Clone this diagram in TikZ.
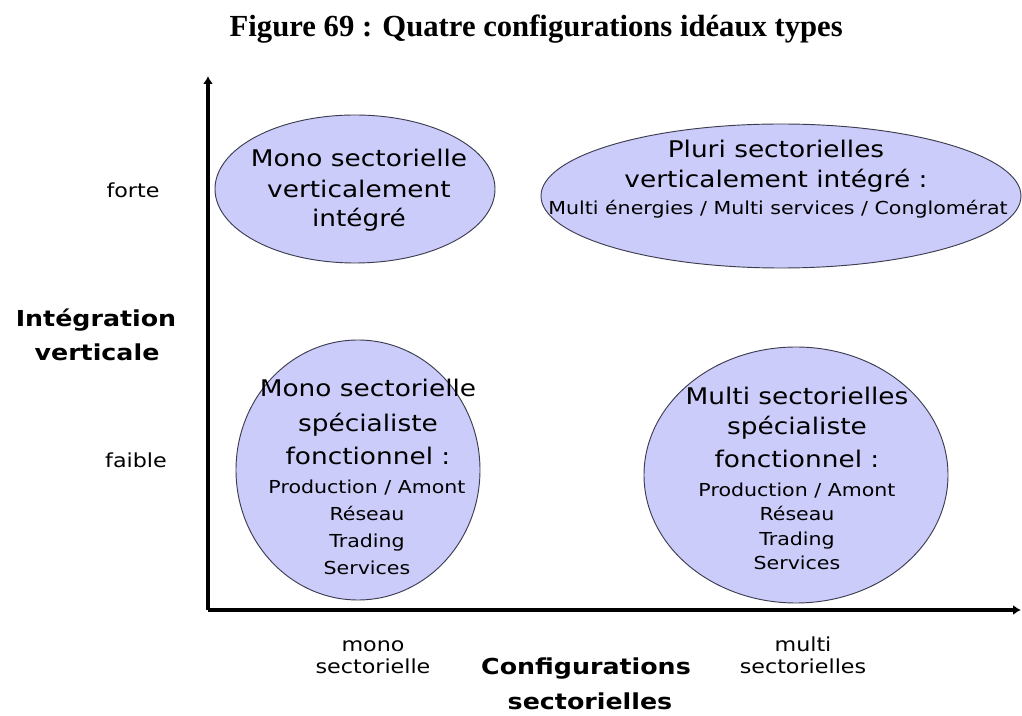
\documentclass[tikz,border=0pt]{standalone}
\usepackage{fontspec}
\setmainfont{DejaVu Sans}[FakeStretch=1.15]
\newfontfamily\titlefont{Liberation Serif}
\usetikzlibrary{shapes.geometric, arrows.meta}
\definecolor{bulle}{RGB}{204,204,250}
\definecolor{bord}{RGB}{60,60,80}

\begin{document}
\begin{tikzpicture}[x=0.75pt, y=-0.75pt, >={Latex[length=6pt,width=7.5pt]},
		bulle/.style={ellipse, draw=bord, line width=0.7pt, fill=bulle, inner sep=0pt},
		gros/.style={anchor=base, font=\fontsize{17.2}{20}\selectfont},
		petit/.style={anchor=base, font=\fontsize{13.4}{16}\selectfont},
		niveau/.style={anchor=base, font=\fontsize{14.5}{17}\selectfont},
		axe/.style={anchor=base, font=\fontsize{16.5}{20}\selectfont\bfseries}]

		\useasboundingbox (0,0) rectangle (1022,716);

		% Title
		\node[anchor=base west, font=\titlefont\bfseries\fontsize{23}{27}\selectfont] (titre) at (225, 37) {Figure 69 : Quatre configurations idéaux types};

		% Axes
		\coordinate (origine) at (208, 610);
		\coordinate (hautY) at (208, 76);
		\coordinate (finX) at (1021, 610);
		\draw[->, line width=2.6pt] (origine) -- (hautY);
		\draw[->, line width=2.6pt] (origine) -- (finX);

		% Ellipses
		\node[bulle, minimum width=210pt, minimum height=111pt] (monoVert) at (355, 189) {};
		\node[bulle, minimum width=360pt, minimum height=108pt] (pluriVert) at (781, 196) {};
		\node[bulle, minimum width=183pt, minimum height=195pt] (monoSpec) at (358, 470) {};
		\node[bulle, minimum width=228pt, minimum height=192pt] (multiSpec) at (796, 475) {};

		% Mono sectorielle verticalement integre
		\foreach \y/\txt [count=\i] in {167/Mono sectorielle, 198/verticalement, 227/intégré}
			\node[gros] (mv\i) at (359, \y) {\txt};

		% Pluri sectorielles
		\foreach \y/\txt [count=\i] in {158/Pluri sectorielles, 188/verticalement intégré :}
			\node[gros] (pv\i) at (776, \y) {\txt};
		\node[petit] (pv3) at (778, 215) {Multi énergies / Multi services / Conglomérat};

		% Mono sectorielle specialiste
		\foreach \y/\txt [count=\i] in {397/Mono sectorielle, 432/spécialiste, 465/fonctionnel :}
			\node[gros] (ms\i) at (368, \y) {\txt};
		\foreach \y/\txt [count=\i] in {494/{Production / Amont}, 521/Réseau, 548/Trading, 575/Services}
			\node[petit] (msd\i) at (367, \y) {\txt};

		% Multi sectorielles specialiste
		\foreach \y/\txt [count=\i] in {405/Multi sectorielles, 435/spécialiste, 468/fonctionnel :}
			\node[gros] (xs\i) at (797, \y) {\txt};
		\foreach \y/\txt [count=\i] in {497/{Production / Amont}, 521/Réseau, 546/Trading, 570/Services}
			\node[petit] (xsd\i) at (797, \y) {\txt};

		% Levels on the vertical axis
		\node[niveau] (forte) at (133, 198) {forte};
		\node[niveau] (faible) at (136, 468) {faible};
		\node[axe] (integ1) at (96, 327) {Intégration};
		\node[axe] (integ2) at (97, 361) {verticale};

		% Levels on the horizontal axis
		\node[niveau] (mono1) at (373, 652) {mono};
		\node[niveau] (mono2) at (373, 673) {sectorielle};
		\node[niveau] (multi1) at (803, 652) {multi};
		\node[niveau] (multi2) at (803, 673) {sectorielles};
		\node[axe] (config1) at (586, 675) {Configurations};
		\node[axe] (config2) at (590, 710) {sectorielles};

	\end{tikzpicture}
\end{document}
